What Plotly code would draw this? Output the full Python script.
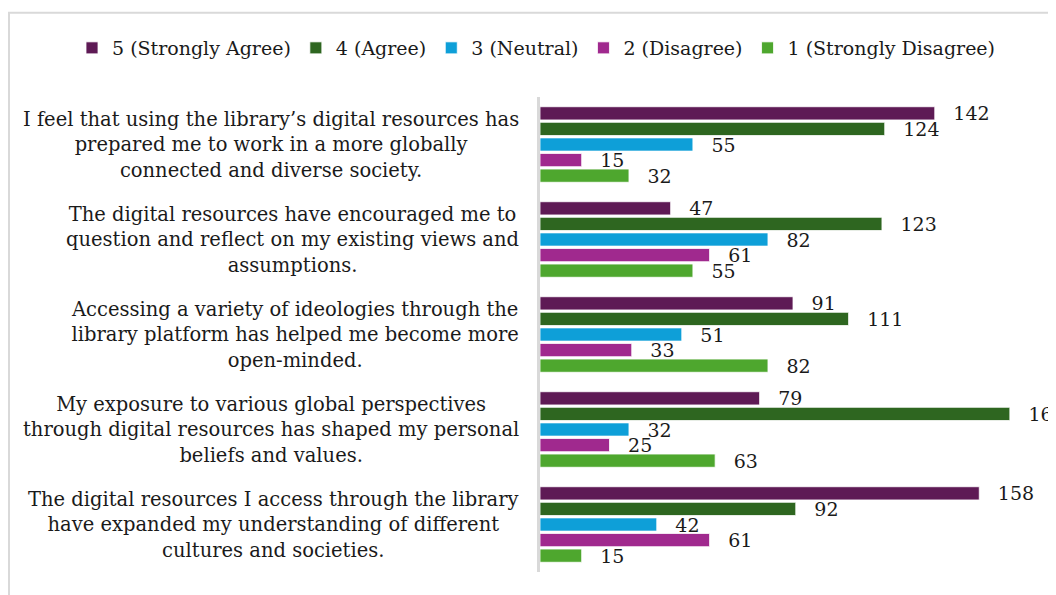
import plotly.graph_objects as go

categories = [
    "I feel that using the library’s digital resources has<br>prepared me to work in a more globally<br>connected and diverse society.",
    "The digital resources have encouraged me to<br>question and reflect on my existing views and<br>assumptions.",
    "Accessing a variety of ideologies through the<br>library platform has helped me become more<br>open-minded.",
    "My exposure to various global perspectives<br>through digital resources has shaped my personal<br>beliefs and values.",
    "The digital resources I access through the library<br>have expanded my understanding of different<br>cultures and societies.",
]

series_names = ["5 (Strongly Agree)", "4 (Agree)", "3 (Neutral)", "2 (Disagree)", "1 (Strongly Disagree)"]
strongly_agree = [142, 47, 91, 79, 158]
agree = [124, 123, 111, 169, 92]
neutral = [55, 82, 51, 32, 42]
disagree = [15, 61, 33, 25, 61]
strongly_disagree = [32, 55, 82, 63, 15]
series_values = [strongly_agree, agree, neutral, disagree, strongly_disagree]
colors = ["#5E1A55", "#2E6620", "#0E9FD8", "#A0298E", "#4EA72E"]

FONT = "DejaVu Serif, Liberation Serif, serif"
TXT = "#1a1a1a"

# figure sits at an 8px body offset inside the 1056x595 window
W, H = 1048, 587
ML, MT, MB = 532, 89, 23
PW, PH = W - ML, H - MT - MB

fig = go.Figure()
for name, vals, col in zip(series_names, series_values, colors):
    fig.add_trace(go.Bar(
        y=categories, x=vals, name=name, orientation="h",
        marker=dict(color=col, line=dict(color="white", width=0.8)),
        text=vals, texttemplate="\u2002\u00a0%{text}",
        textposition="outside", constraintext="none", cliponaxis=True,
        textfont=dict(family=FONT, size=19, color=TXT),
        hoverinfo="skip",
    ))

annotations = []
for c in categories:
    annotations.append(dict(
        x=0, xref="paper", y=c, yref="y", text=c, showarrow=False,
        xanchor="right", yanchor="middle", align="center", xshift=-19,
        font=dict(family=FONT, size=19.5, color=TXT),
    ))

fig.update_layout(
    width=W, height=H,
    margin=dict(l=ML, r=0, t=MT, b=MB, autoexpand=False),
    paper_bgcolor="white", plot_bgcolor="white",
    barmode="group", bargap=0.18, bargroupgap=0.15,
    font=dict(family=FONT, size=19, color=TXT),
    showlegend=True,
    legend=dict(orientation="h", xref="paper", yref="paper",
                x=(64 - ML) / PW, y=(MT + PH - 40) / PH,
                xanchor="left", yanchor="middle",
                font=dict(family=FONT, size=19, color=TXT), itemwidth=30,
                traceorder="normal", bgcolor="rgba(0,0,0,0)"),
    xaxis=dict(range=[0, 185.6], visible=False, showgrid=False, zeroline=False),
    yaxis=dict(autorange="reversed", showticklabels=False, showgrid=False,
               showline=True, linecolor="#d9d9d9", linewidth=2.5, ticks=""),
    annotations=annotations,
    shapes=[dict(type="rect", xref="paper", yref="paper",
                 x0=(1 - ML) / PW, x1=1.2, y0=-0.2, y1=(MT + PH - 4.7) / PH,
                 line=dict(color="#d9d9d9", width=2), fillcolor="rgba(0,0,0,0)",
                 layer="below")],
)

fig.write_html("out.html")
